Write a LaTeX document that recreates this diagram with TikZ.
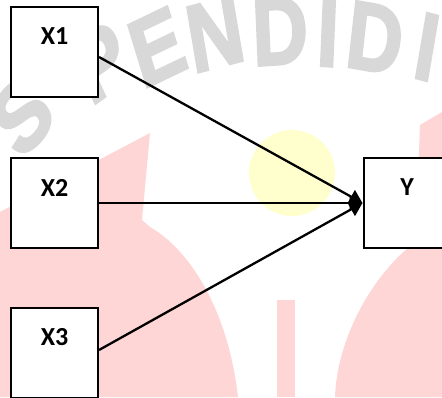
\documentclass[tikz,border=0pt]{standalone}
\usepackage{fontspec}
\newfontfamily\lblfont{Carlito}
\newfontfamily\wmfont[FakeBold=3]{Liberation Sans Bold}
\usetikzlibrary{arrows.meta,calc}
\definecolor{wmgray}{RGB}{216,216,216}
\definecolor{wmpink}{RGB}{255,214,214}
\definecolor{wmyellow}{RGB}{255,255,205}
\tikzset{
  varbox/.style={draw=black, line width=2pt, fill=white, minimum width=87pt, minimum height=90pt, inner sep=0pt},
  varlbl/.style={font=\lblfont\bfseries\fontsize{26}{26}\selectfont, inner sep=0pt},
  link/.style={line width=2.3pt, -{Triangle[length=13pt,width=15pt]}},
  wmletter/.style={font=\wmfont\fontsize{96}{96}\selectfont, text=wmgray, inner sep=0pt, xscale=0.8}
}
\begin{document}
\begin{tikzpicture}[x=1pt, y=-1pt]
  \useasboundingbox (0,0) rectangle (442,397);
  \fill[white] (0,0) rectangle (442,397);

  % background emblem: red wings, yellow sun, gray lettering
  \fill[wmpink] (0,212) -- (150,133) -- (142,220) -- (150,227)
    .. controls (190,250) and (228,310) .. (238,397) -- (0,397) -- cycle;
  \fill[wmpink] (420,125) -- (442,112) -- (442,397) -- (335,397)
    .. controls (337,340) and (370,280) .. (408,248) -- (418,180) -- cycle;
  \fill[wmpink] (277,300) rectangle (295,397);
  \fill[wmyellow] (292,173) circle (43);

  \node[wmletter, rotate=42]  (wS)  at (22,116) {S};
  \node[wmletter, rotate=30]  (wP)  at (100,62) {P};
  \node[wmletter, rotate=21]  (wE)  at (157,47) {E};
  \node[wmletter, rotate=12]  (wN)  at (215,34) {N};
  \node[wmletter, rotate=3]   (wD1) at (280,31) {D};
  \node[wmletter, rotate=-3]  (wI1) at (328,33) {I};
  \node[wmletter, rotate=-8]  (wD2) at (375,38) {D};
  \node[wmletter, rotate=-12] (wI2) at (427,47) {I};

  % variables
  \node[varbox] (x1) at (54.5,52)  {};
  \node[varbox] (x2) at (54.5,203) {};
  \node[varbox] (x3) at (54.5,353) {};
  \node[varbox] (y)  at (407,203)  {};

  \node[varlbl] (x1t) at ($(x1.north)+(0,30)$) {X1};
  \node[varlbl] (x2t) at ($(x2.north)+(0,30.5)$) {X2};
  \node[varlbl] (x3t) at ($(x3.north)+(0,30.5)$) {X3};
  \node[varlbl] (yt)  at ($(y.north)+(0,30)$) {Y};

  % paths into Y
  \draw[link] ([yshift=-5pt]x1.east) -- (y.west);
  \draw[link] (x2.east) -- (y.west);
  \draw[link] ([yshift=3pt]x3.east) -- (y.west);
\end{tikzpicture}
\end{document}
